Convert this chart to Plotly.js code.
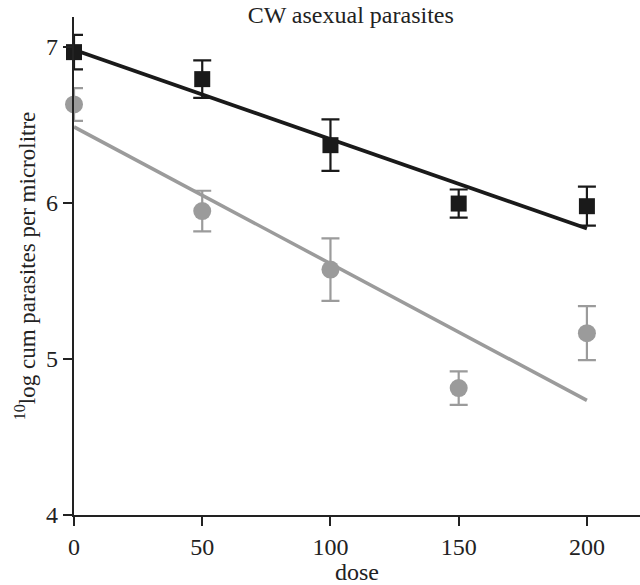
<!DOCTYPE html>
<html>
<head>
<meta charset="utf-8">
<script src="https://cdn.plot.ly/plotly-3.0.1.min.js"></script>
<style>html,body{margin:0;padding:0;background:#fff;}#chart{width:640px;height:585px;}</style>
</head>
<body>
<div id="chart"></div>
<script>
// Data
const dose = [0, 50, 100, 150, 200];
const blackMean = [6.965, 6.792, 6.369, 5.995, 5.978];
const blackErr = [0.11, 0.12, 0.165, 0.09, 0.125];
const greyMean = [6.63, 5.947, 5.572, 4.813, 5.165];
const greyErr = [0.105, 0.13, 0.2, 0.107, 0.173];
const fitDose = [0, 200];
const blackFit = [6.98, 5.835];
const greyFit = [6.486, 4.734];
const xTicks = [0, 50, 100, 150, 200];
const yTicks = [4, 5, 6, 7];

const BLACK = '#1a1a1a';
const GREY = '#9b9b9b';

const traces = [
  {x: fitDose, y: greyFit, mode: 'lines', line: {color: GREY, width: 3.5}, hoverinfo: 'skip', cliponaxis: false},
  {x: fitDose, y: blackFit, mode: 'lines', line: {color: BLACK, width: 3.8}, hoverinfo: 'skip', cliponaxis: false},
  {x: dose, y: greyMean, mode: 'markers', cliponaxis: false,
   marker: {symbol: 'circle', size: 18, color: GREY},
   error_y: {type: 'data', array: greyErr, visible: true, color: GREY, thickness: 2.2, width: 9}},
  {x: dose, y: blackMean, mode: 'markers', cliponaxis: false,
   marker: {symbol: 'square', size: 16, color: BLACK},
   error_y: {type: 'data', array: blackErr, visible: true, color: BLACK, thickness: 2.2, width: 9}}
];

const FAM = '"Liberation Serif", "Times New Roman", serif';
const TXT = '#222';

const layout = {
  width: 640, height: 585,
  margin: {l: 74, r: 0, t: 17, b: 70},
  paper_bgcolor: '#fff', plot_bgcolor: '#fff',
  showlegend: false,
  font: {family: FAM, color: TXT},
  title: {text: 'CW asexual parasites', font: {family: FAM, size: 24, color: TXT},
          x: 0.548, xanchor: 'center', y: 0.975, yanchor: 'middle', yref: 'container'},
  xaxis: {
    range: [0, 220.7], tickvals: xTicks, ticktext: xTicks.map(String),
    showline: true, linecolor: TXT, linewidth: 2.2, showgrid: false, zeroline: false,
    ticks: 'outside', ticklen: 9, tickwidth: 2, tickcolor: TXT,
    tickfont: {family: FAM, size: 24, color: TXT},
    title: {text: 'dose', font: {family: FAM, size: 24, color: TXT}, standoff: 2}
  },
  yaxis: {
    range: [4, 7.19], tickvals: yTicks, ticktext: yTicks.map(String),
    showline: true, linecolor: TXT, linewidth: 2.2, showgrid: false, zeroline: false,
    ticks: 'outside', ticklen: 9, tickwidth: 2, tickcolor: TXT,
    tickfont: {family: FAM, size: 24, color: TXT},
    title: {text: '<sup>10</sup>log cum parasites per microlitre', font: {family: FAM, size: 23, color: TXT}, standoff: 4}
  }
};

Plotly.newPlot('chart', traces, layout, {displayModeBar: false, staticPlot: true});
</script>
</body>
</html>
